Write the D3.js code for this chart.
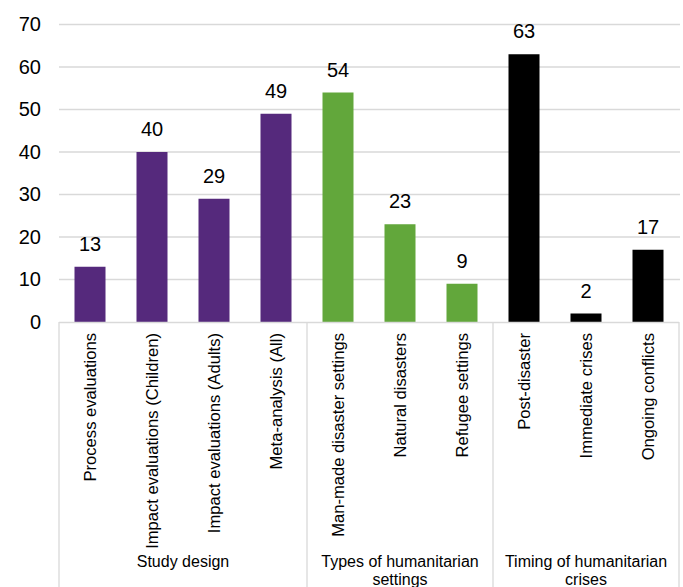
<!DOCTYPE html>
<html>
<head>
<meta charset="utf-8">
<script src="https://cdn.jsdelivr.net/npm/d3@7"></script>
<style>
  html, body { margin: 0; padding: 0; background: #fff; }
  svg { display: block; font-family: "Liberation Sans", Arial, sans-serif; }
</style>
</head>
<body>
<svg id="chart" width="683" height="587"></svg>
<script>
const categories = [
  "Process evaluations", "Impact evaluations (Children)", "Impact evaluations (Adults)", "Meta-analysis (All)",
  "Man-made disaster settings", "Natural disasters", "Refugee settings",
  "Post-disaster", "Immediate crises", "Ongoing conflicts"
];
const values = [13, 40, 29, 49, 54, 23, 9, 63, 2, 17];
const groupOf = [0, 0, 0, 0, 1, 1, 1, 2, 2, 2];
const groups = [
  ["Study design"],
  ["Types of humanitarian", "settings"],
  ["Timing of humanitarian", "crises"]
];
const groupColors = ["#55297c", "#62a73b", "#000000"];
const yTicks = [0, 10, 20, 30, 40, 50, 60, 70];

(function () {
const svg = d3.select("#chart");
const mLeft = 59, mRight = 679, mTop = 24.5, mBottom = 322;

const x = d3.scaleBand().domain(categories).range([mLeft, mRight]).paddingInner(0.5).paddingOuter(0.25);
const y = d3.scaleLinear().domain([0, 70]).range([mBottom, mTop]);

// gridlines
svg.append("g").selectAll("line").data(yTicks.filter(t => t > 0)).join("line")
  .attr("x1", mLeft).attr("x2", mRight + 1)
  .attr("y1", d => y(d)).attr("y2", d => y(d))
  .attr("stroke", "#d9d9d9").attr("stroke-width", 1.3);

// y axis labels
const yAxis = d3.axisLeft(y).tickValues(yTicks).tickSize(0).tickPadding(0);
const yg = svg.append("g").attr("transform", `translate(${mLeft - 18},0)`).call(yAxis);
yg.select(".domain").remove();
yg.selectAll("text").attr("font-size", 20).attr("fill", "#000")
  .attr("font-family", "Liberation Sans, Arial, sans-serif");

// bars
svg.append("g").selectAll("rect").data(values).join("rect")
  .attr("x", (d, i) => x(categories[i]))
  .attr("width", x.bandwidth())
  .attr("y", d => y(d))
  .attr("height", d => y(0) - y(d))
  .attr("fill", (d, i) => groupColors[groupOf[i]]);

// value labels
svg.append("g").selectAll("text").data(values).join("text")
  .attr("x", (d, i) => x(categories[i]) + x.bandwidth() / 2)
  .attr("y", d => y(d) - 16)
  .attr("text-anchor", "middle")
  .attr("font-size", 20)
  .attr("fill", "#000")
  .text(d => d);

// bottom axis line
svg.append("line").attr("x1", mLeft).attr("x2", mRight)
  .attr("y1", mBottom + 0.5).attr("y2", mBottom + 0.5)
  .attr("stroke", "#d9d9d9").attr("stroke-width", 1.3);

// group separators
const step = x.step();
const bounds = [0, 4, 7, 10];
svg.append("g").selectAll("line").data(bounds).join("line")
  .attr("x1", d => mLeft + d * step).attr("x2", d => mLeft + d * step)
  .attr("y1", mBottom).attr("y2", 587)
  .attr("stroke", "#d9d9d9").attr("stroke-width", 1.3);

// category labels (rotated)
svg.append("g").selectAll("text").data(categories).join("text")
  .attr("transform", d => `translate(${x(d) + x.bandwidth() / 2 + 6},333) rotate(-90)`)
  .attr("text-anchor", "end")
  .attr("font-size", 16.6)
  .attr("fill", "#000")
  .text(d => d);

// group labels
const gl = svg.append("g");
groups.forEach((lines, gi) => {
  const cx = mLeft + (bounds[gi] + bounds[gi + 1]) / 2 * step;
  const t = gl.append("text").attr("text-anchor", "middle").attr("font-size", 16).attr("fill", "#000");
  lines.forEach((ln, li) => {
    t.append("tspan").attr("x", cx).attr("y", 567 + li * 18).text(ln);
  });
});
})();
</script>
</body>
</html>
